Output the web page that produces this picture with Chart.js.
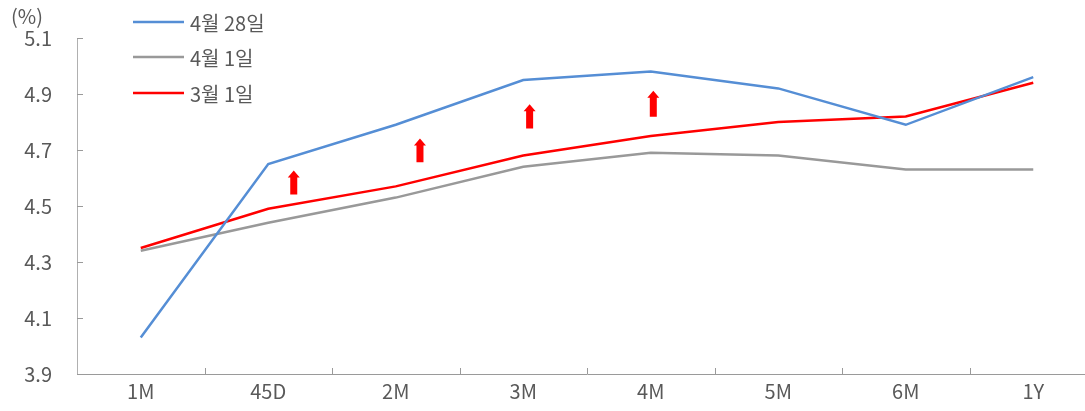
<!DOCTYPE html>
<html>
<head>
<meta charset="utf-8">
<script src="https://cdn.jsdelivr.net/npm/chart.js@4/dist/chart.umd.min.js"></script>
<style>
  html, body { margin: 0; padding: 0; background: #ffffff; overflow: hidden; }
  #wrap { position: absolute; left: 0; top: 0; width: 1097px; height: 411px; }
</style>
</head>
<body>
<div id="wrap"><canvas id="chart"></canvas></div>
<script>
// Tenors on the curve
const tenors = ['1M', '45D', '2M', '3M', '4M', '5M', '6M', '1Y'];

// Yields (%) by date
const apr28 = [4.03, 4.65, 4.79, 4.95, 4.98, 4.92, 4.79, 4.96];
const apr01 = [4.34, 4.44, 4.53, 4.64, 4.69, 4.68, 4.63, 4.63];
const mar01 = [4.35, 4.49, 4.57, 4.68, 4.75, 4.80, 4.82, 4.94];

const seriesNames = ['4월 28일', '4월 1일', '3월 1일'];

// Y axis range and step
const yMin = 3.9, yMax = 5.1, yStep = 0.2;
const unitLabel = '(%)';

// Upward arrow marks: tenor position (index) and yield span (bottom, top)
const arrowAt   = [1.2, 2.19, 3.05, 4.02];
const arrowFrom = [4.541, 4.656, 4.777, 4.819];
const arrowTo   = [4.627, 4.741, 4.863, 4.912];

const FONT = '"Noto Sans CJK KR", "Noto Sans", sans-serif';
const TEXT = '#595959';
const colors = ['#558ED5', '#999999', '#FF0000'];

const overlay = {
  id: 'overlay',
  afterDatasetsDraw(chart) {
    const ctx = chart.ctx;
    const xs = chart.scales.x, ys = chart.scales.y;
    const area = chart.chartArea;
    ctx.save();

    // inward tick marks
    ctx.strokeStyle = '#9a9a9a';
    ctx.lineWidth = 1;
    ctx.beginPath();
    for (let i = 1; i < tenors.length; i++) {
      const px = Math.round(xs.getPixelForValue(i - 0.5)) + 0.5;
      ctx.moveTo(px, area.bottom);
      ctx.lineTo(px, area.bottom - 6);
    }
    ys.ticks.forEach(t => {
      const py = Math.round(ys.getPixelForValue(t.value)) + 0.5;
      ctx.moveTo(area.left, py);
      ctx.lineTo(area.left + 6, py);
    });
    ctx.stroke();

    // red arrows
    ctx.fillStyle = '#FF0000';
    for (let i = 0; i < arrowAt.length; i++) {
      const cx = xs.getPixelForValue(arrowAt[i]);
      const yb = ys.getPixelForValue(arrowFrom[i]);
      const yt = ys.getPixelForValue(arrowTo[i]);
      const head = 7, hw = 6, sw = 3.5;
      ctx.beginPath();
      ctx.moveTo(cx, yt);
      ctx.lineTo(cx + hw, yt + head);
      ctx.lineTo(cx + sw, yt + head);
      ctx.lineTo(cx + sw, yb);
      ctx.lineTo(cx - sw, yb);
      ctx.lineTo(cx - sw, yt + head);
      ctx.lineTo(cx - hw, yt + head);
      ctx.closePath();
      ctx.fill();
    }

    // legend
    ctx.font = '20px ' + FONT;
    ctx.textBaseline = 'middle';
    ctx.textAlign = 'left';
    const lx0 = 133, lx1 = 184, ly = [22, 57, 93];
    for (let i = 0; i < seriesNames.length; i++) {
      ctx.strokeStyle = colors[i];
      ctx.lineWidth = 2.5;
      ctx.beginPath();
      ctx.moveTo(lx0, ly[i]);
      ctx.lineTo(lx1, ly[i]);
      ctx.stroke();
      ctx.fillStyle = TEXT;
      ctx.fillText(seriesNames[i], 190, ly[i] + 1);
    }

    // unit label
    ctx.textAlign = 'center';
    ctx.fillText(unitLabel, 27, 16);
    ctx.restore();
  }
};

new Chart(document.getElementById('chart'), {
  type: 'line',
  data: {
    labels: tenors,
    datasets: [
      { label: seriesNames[0], data: apr28, borderColor: colors[0] },
      { label: seriesNames[1], data: apr01, borderColor: colors[1] },
      { label: seriesNames[2], data: mar01, borderColor: colors[2] }
    ].map(d => Object.assign(d, {
      borderWidth: 2.5, pointRadius: 0, tension: 0, fill: false,
      backgroundColor: d.borderColor
    }))
  },
  options: {
    responsive: true,
    maintainAspectRatio: false,
    animation: false,
    layout: { padding: { top: 38, right: 0, bottom: 0, left: 0 } },
    plugins: { legend: { display: false }, tooltip: { enabled: false } },
    scales: {
      x: {
        offset: true,
        grid: { display: true, drawOnChartArea: false, drawTicks: false, offset: true },
        border: { display: true, color: '#9a9a9a', width: 1 },
        ticks: { color: TEXT, font: { family: FONT, size: 20, lineHeight: 1 }, padding: 7, maxRotation: 0 }
      },
      y: {
        min: yMin, max: yMax,
        grid: { display: true, drawOnChartArea: false, drawTicks: false },
        border: { display: true, color: '#b0b0b0', width: 1 },
        ticks: {
          stepSize: yStep, color: TEXT, font: { family: FONT, size: 20 }, padding: 25,
          callback: v => v.toFixed(1)
        },
        afterFit(s) { s.width = 77; }
      }
    }
  },
  plugins: [overlay]
});
</script>
</body>
</html>
